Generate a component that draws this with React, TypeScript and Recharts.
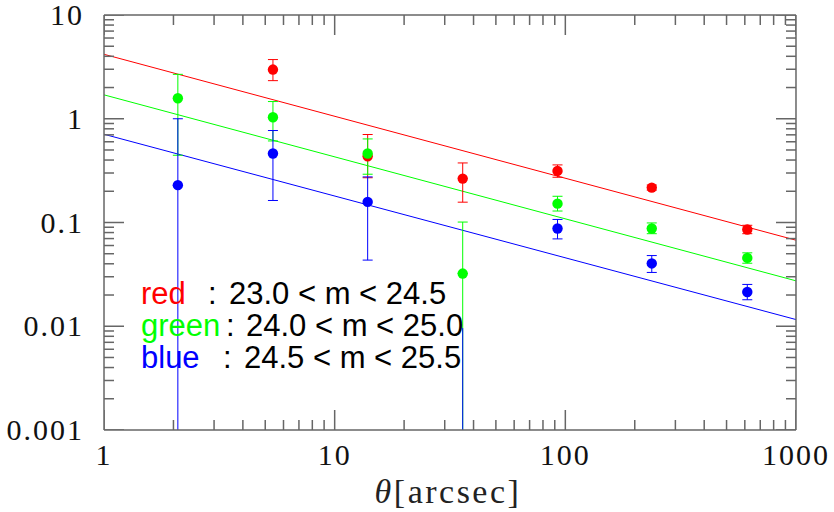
import React from 'react';
import { ComposedChart, XAxis, YAxis, Scatter, Line, ErrorBar } from 'recharts';

// ---- data ----
const thetas = [2.09, 5.4, 13.9, 35.9, 92.5, 237, 615];

const redVal = [null, 2.98, 0.435, 0.265, 0.314, 0.217, 0.0856];
const redHi = [null, 3.72, 0.705, 0.375, 0.359, 0.23, 0.094];
const redLo = [null, 2.33, 0.27, 0.157, 0.273, 0.205, 0.078];

const greenVal = [1.577, 1.034, 0.462, 0.0322, 0.152, 0.0875, 0.0456];
const greenHi = [2.68, 1.465, 0.639, 0.101, 0.179, 0.099, 0.051];
const greenLo = [0.445, 0.611, 0.292, 0.001, 0.129, 0.078, 0.0405];

const blueVal = [0.229, 0.462, 0.158, null, 0.0875, 0.0403, 0.0214];
const blueHi = [1.0, 0.77, 0.275, 0.0096, 0.107, 0.048, 0.0253];
const blueLo = [0.001, 0.163, 0.0434, 0.001, 0.0695, 0.033, 0.018];

const fitX = [1, 1000];
const redFit = [4.18, 0.0675];
const greenFit = [1.7, 0.0274];
const blueFit = [0.709, 0.0116];

const xMajorTicks = [1, 10, 100, 1000];
const xMinorTicks = [2, 3, 4, 5, 6, 7, 8, 9, 20, 30, 40, 50, 60, 70, 80, 90, 200, 300, 400, 500, 600, 700, 800, 900];
const yMajorTicks = [0.001, 0.01, 0.1, 1, 10];
const yMinorTicks = [
  0.002, 0.003, 0.004, 0.005, 0.006, 0.007, 0.008, 0.009,
  0.02, 0.03, 0.04, 0.05, 0.06, 0.07, 0.08, 0.09,
  0.2, 0.3, 0.4, 0.5, 0.6, 0.7, 0.8, 0.9,
  2, 3, 4, 5, 6, 7, 8, 9,
];
const xLabels: Record<string, string> = { '1': '1', '10': '10', '100': '100', '1000': '1000' };
const yLabels: Record<string, string> = { '0.001': '0.001', '0.01': '0.01', '0.1': '0.1', '1': '1', '10': '10' };

const legendRows = [
  { name: 'red', color: '#ff0000', range: '23.0 < m < 24.5' },
  { name: 'green', color: '#00ff00', range: '24.0 < m < 25.0' },
  { name: 'blue', color: '#0000ff', range: '24.5 < m < 25.5' },
];

// ---- helpers ----
const FLOOR = 0.001;
const X_MIN = 1;
const X_MAX = 1000;
const Y_MIN = 0.001;
const Y_MAX = 10;
const AXIS = '#666666';
const SERIF = '"Liberation Serif", "DejaVu Serif", serif';
const SANS = '"Liberation Sans", Arial, sans-serif';
const THIN = 0.01;

function build(vals: (number | null)[], hi: number[], lo: number[]) {
  const main: any[] = [];
  const tail: any[] = [];
  vals.forEach((v, i) => {
    const x = thetas[i];
    if (v == null) {
      tail.push({ x, y: hi[i], err: [hi[i] - FLOOR, 0] });
      return;
    }
    if (lo[i] > FLOOR) {
      main.push({ x, y: v, err: [v - lo[i], hi[i] - v] });
    } else {
      main.push({ x, y: v, err: [0, hi[i] - v] });
      tail.push({ x, y: v, err: [v - FLOOR, 0] });
    }
  });
  return { main, tail };
}

const fitRows = (ys: number[]) => fitX.map((x, i) => ({ x, y: ys[i] }));

// tick-mark anchor points on the frame (drawn inward by the shape below)
const tickRows: any[] = [
  ...xMajorTicks.flatMap((v) => [
    { x: v, y: Y_MIN, side: 'b', len: 20 },
    { x: v, y: Y_MAX, side: 't', len: 20 },
  ]),
  ...xMinorTicks.flatMap((v) => [
    { x: v, y: Y_MIN, side: 'b', len: 10 },
    { x: v, y: Y_MAX, side: 't', len: 10 },
  ]),
  ...yMajorTicks.flatMap((v) => [
    { x: X_MIN, y: v, side: 'l', len: 20 },
    { x: X_MAX, y: v, side: 'r', len: 20 },
  ]),
  ...yMinorTicks.flatMap((v) => [
    { x: X_MIN, y: v, side: 'l', len: 10 },
    { x: X_MAX, y: v, side: 'r', len: 10 },
  ]),
];

const TickMark = (p: any) => {
  const { cx, cy } = p;
  const src = p.payload ?? p;
  const side = src.side ?? p.side;
  const len = src.len ?? p.len ?? 10;
  if (cx == null || cy == null || Number.isNaN(cx) || Number.isNaN(cy)) return <g />;
  let x2 = cx;
  let y2 = cy;
  if (side === 'b') y2 = cy - len;
  else if (side === 't') y2 = cy + len;
  else if (side === 'l') x2 = cx + len;
  else x2 = cx - len;
  return <line x1={cx} y1={cy} x2={x2} y2={y2} stroke={AXIS} strokeWidth={1.5} />;
};

const XLabel = (props: any) => {
  const { x, y, payload } = props;
  const lab = xLabels[String(payload.value)];
  if (!lab) return <g />;
  return (
    <text x={x} y={y + 35} textAnchor="middle" fontFamily={SERIF} fontSize={30} letterSpacing={2} fill="#111">
      {lab}
    </text>
  );
};

const YLabel = (props: any) => {
  const { x, y, payload } = props;
  const lab = yLabels[String(payload.value)];
  if (!lab) return <g />;
  return (
    <text x={x - 20} y={y + 10} textAnchor="end" fontFamily={SERIF} fontSize={30} letterSpacing={2} fill="#111">
      {lab}
    </text>
  );
};

const Empty = () => <g />;

const Dot = (color: string) => (p: any) => <circle cx={p.cx} cy={p.cy} r={5.2} fill={color} />;

export default function App() {
  const red = build(redVal, redHi, redLo);
  const green = build(greenVal, greenHi, greenLo);
  const blue = build(blueVal, blueHi, blueLo);

  const series = [
    { s: red, color: '#ff0000', fit: redFit, key: 'r' },
    { s: green, color: '#00ff00', fit: greenFit, key: 'g' },
    { s: blue, color: '#0000ff', fit: blueFit, key: 'b' },
  ];

  const common = {
    type: 'number' as const,
    scale: 'log' as const,
    allowDataOverflow: true,
    interval: 0 as const,
    tickLine: false,
    tickSize: 0,
    tickMargin: 0,
  };
  const xCommon = { ...common, dataKey: 'x', domain: [X_MIN, X_MAX] as [number, number], height: THIN };
  const yCommon = { ...common, dataKey: 'y', domain: [Y_MIN, Y_MAX] as [number, number], width: THIN };
  const line = { stroke: AXIS, strokeWidth: 1.5 };

  return (
    <div style={{ position: 'absolute', left: 0, top: 0, width: 834, height: 512, background: '#fff' }}>
      <ComposedChart width={834} height={512} margin={{ top: 15, right: 38, bottom: 82, left: 104 }}>
        <XAxis {...xCommon} xAxisId="b" orientation="bottom" ticks={xMajorTicks} axisLine={line} tick={XLabel} />
        <XAxis {...xCommon} xAxisId="t" orientation="top" ticks={xMajorTicks} axisLine={line} tick={Empty} />
        <YAxis {...yCommon} yAxisId="l" orientation="left" ticks={yMajorTicks} axisLine={line} tick={YLabel} />
        <YAxis {...yCommon} yAxisId="r" orientation="right" ticks={yMajorTicks} axisLine={line} tick={Empty} />

        {series.map((sr) => (
          <Line
            key={'fit' + sr.key}
            xAxisId="b"
            yAxisId="l"
            data={fitRows(sr.fit)}
            dataKey="y"
            stroke={sr.color}
            strokeWidth={1}
            dot={false}
            activeDot={false}
            isAnimationActive={false}
          />
        ))}
        {series.flatMap((sr) => [
          <Scatter
            key={'tail' + sr.key}
            xAxisId="b"
            yAxisId="l"
            data={sr.s.tail}
            dataKey="y"
            shape={Empty}
            isAnimationActive={false}
          >
            <ErrorBar dataKey="err" direction="y" width={0} stroke={sr.color} strokeWidth={1} isAnimationActive={false} />
          </Scatter>,
          <Scatter
            key={'main' + sr.key}
            xAxisId="b"
            yAxisId="l"
            data={sr.s.main}
            dataKey="y"
            shape={Dot(sr.color)}
            isAnimationActive={false}
          >
            <ErrorBar dataKey="err" direction="y" width={5} stroke={sr.color} strokeWidth={1} isAnimationActive={false} />
          </Scatter>,
        ])}

        <Scatter
          xAxisId="b"
          yAxisId="l"
          data={tickRows}
          dataKey="y"
          shape={TickMark}
          isAnimationActive={false}
        />
      </ComposedChart>
      <svg
        width={834}
        height={512}
        style={{ position: 'absolute', left: 0, top: 0, pointerEvents: 'none' }}
      >
        {legendRows.map((r, i) => {
          const base = 304 + i * 32;
          const colonX = [208, 226, 223][i];
          const rangeX = [229, 246, 244][i];
          return (
            <g key={r.name} fontFamily={SANS} fontSize={31}>
              <text x={141} y={base} fill={r.color}>{r.name}</text>
              <text x={colonX} y={base} fill="#000">:</text>
              <text x={rangeX} y={base} fill="#000">{r.range}</text>
            </g>
          );
        })}
        <text x={448} y={503} textAnchor="middle" fontFamily={SERIF} fontSize={34} letterSpacing={2.5} fill="#222">
          <tspan fontStyle="italic">θ</tspan>[arcsec]
        </text>
      </svg>
    </div>
  );
}
